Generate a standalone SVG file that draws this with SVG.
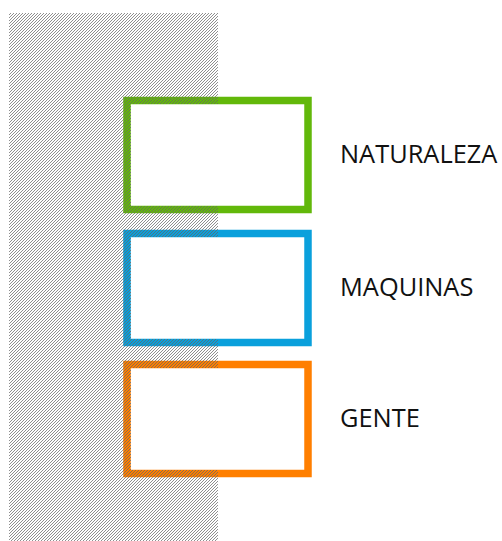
<svg xmlns="http://www.w3.org/2000/svg" width="502" height="541" viewBox="0 0 502 541">
<style>
.box{fill:#ffffff;stroke-width:7.5}
.lbl{font-family:"Open Sans","Noto Sans","DejaVu Sans",sans-serif;font-size:25.4px;fill:#111111}
</style>
<defs>
<pattern id="hatch" width="3" height="3" patternUnits="userSpaceOnUse">
<path d="M-1 1L1 -1M0 3L3 0M2 4L4 2" stroke="#646464" stroke-opacity="0.72" stroke-width="1" fill="none"/>
</pattern>
<clipPath id="hclip">
<path clip-rule="evenodd" d="M9 13H218V541H9Z M131 104H304V206H131Z M131 237H304V339H131Z M131 368H304V470H131Z"/>
</clipPath>
</defs>
<rect width="502" height="541" fill="#ffffff"/>
<g id="connectors"/>
<g id="naturaleza">
<rect class="box" x="127" y="100.5" width="181" height="109" stroke="#62b80a"/>
<text class="lbl" x="340" y="163">NATURALEZA</text>
</g>
<g id="maquinas">
<rect class="box" x="127" y="233.5" width="181" height="109" stroke="#0aa0dc"/>
<text class="lbl" x="340" y="296">MAQUINAS</text>
</g>
<g id="gente">
<rect class="box" x="127" y="364.5" width="181" height="109" stroke="#ff7f00"/>
<text class="lbl" x="340" y="427">GENTE</text>
</g>
<g id="hatch-area">
<rect x="9" y="13" width="209" height="528" fill="url(#hatch)" clip-path="url(#hclip)"/>
</g>
</svg>
